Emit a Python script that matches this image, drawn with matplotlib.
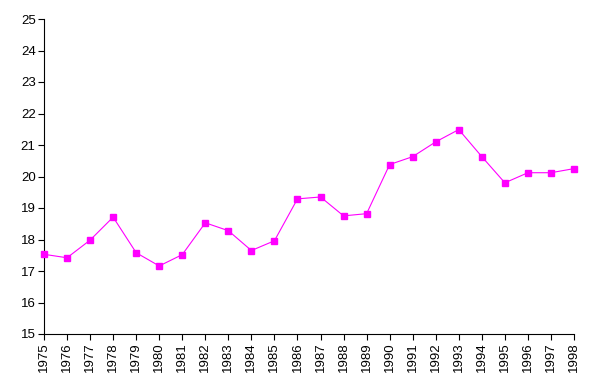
import numpy as np
import matplotlib
matplotlib.use('Agg')
import matplotlib.pyplot as plt

plt.rcParams['font.family'] = ['Liberation Sans', 'DejaVu Sans']

years = np.arange(1975, 1999)
values = [17.53, 17.42, 17.98, 18.71, 17.58, 17.16, 17.52, 18.53, 18.28, 17.65,
          17.96, 19.29, 19.35, 18.75, 18.82, 20.38, 20.63, 21.10, 21.49, 20.63,
          19.80, 20.12, 20.12, 20.25]

fig = plt.figure(figsize=(5.92, 3.79), dpi=100)
ax = fig.add_axes([44/592, 1-334/379, 530/592, 315/379])
ax.plot(years, values, color='#FF00FF', lw=0.8, marker='s', ms=4.5,
        mec='#FF00FF', mfc='#FF00FF', clip_on=False, zorder=3)

ax.set_xlim(1975, 1998)
ax.set_ylim(15, 25)
ax.set_xticks(years)
ax.set_xticklabels([str(y) for y in years], rotation=90)
ax.set_yticks(range(15, 26))
ax.tick_params(labelsize=9.5, length=4, width=0.8, direction='out', pad=2)
for s in ['top', 'right']:
    ax.spines[s].set_visible(False)
for s in ['left', 'bottom']:
    ax.spines[s].set_linewidth(0.8)

fig.savefig('out.png', dpi=100)
